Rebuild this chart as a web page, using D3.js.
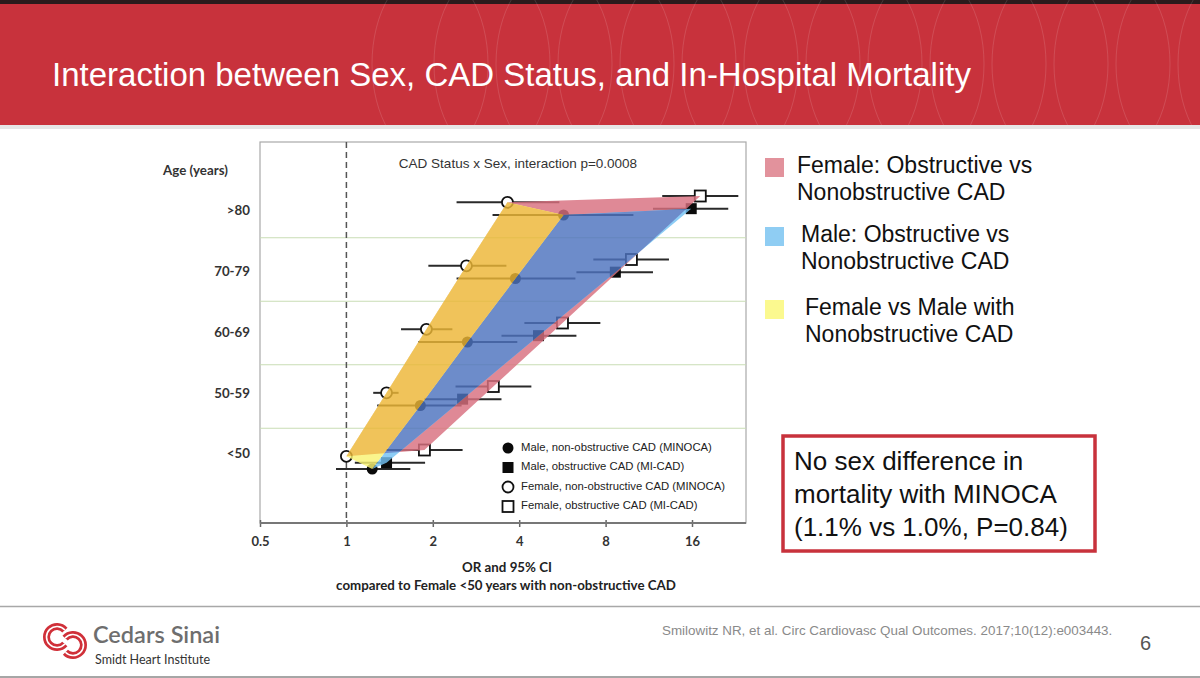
<!DOCTYPE html>
<html>
<head>
<meta charset="utf-8">
<script src="https://cdn.jsdelivr.net/npm/d3@7"></script>
<style>
  body { margin: 0; background: #fff; }
  svg { display: block; }
</style>
</head>
<body>
<script>
"use strict";

// ---- data ----
var ages = ['>80', '70-79', '60-69', '50-59', '<50'];
var xTicks = [0.5, 1, 2, 4, 8, 16];

var femaleNonOR = [3.64, 2.62, 1.90, 1.38, 1.00],
    femaleNonLo = [2.42, 1.93, 1.55, 1.24, 1.00],
    femaleNonHi = [5.52, 3.61, 2.34, 1.52, 1.00];

var maleNonOR = [5.71, 3.88, 2.64, 1.81, 1.23],
    maleNonLo = [3.23, 2.42, 1.78, 1.28, 0.92],
    maleNonHi = [10.0, 6.28, 3.94, 2.52, 1.67];

var maleObstOR = [15.9, 8.65, 4.67, 2.54, 1.38],
    maleObstLo = [11.7, 6.33, 3.47, 1.87, 1.07],
    maleObstHi = [21.4, 11.7, 6.33, 3.47, 1.88];

var femaleObstOR = [17.1, 9.84, 5.66, 3.25, 1.87],
    femaleObstLo = [12.6, 7.25, 4.17, 2.40, 1.38],
    femaleObstHi = [23.2, 13.3, 7.67, 4.41, 2.54];

var seriesKeys = ['femaleObst', 'femaleNon', 'maleObst', 'maleNon'];
var legendKeys = ['maleNon', 'maleObst', 'femaleNon', 'femaleObst'];
var legendLabels = ['Male, non-obstructive CAD (MINOCA)', 'Male, obstructive CAD (MI-CAD)',
                    'Female, non-obstructive CAD (MINOCA)', 'Female, obstructive CAD (MI-CAD)'];

var slideLegend = [
  {lines: ['Female: Obstructive vs', 'Nonobstructive CAD'], color: '#e2929c'},
  {lines: ['Male: Obstructive vs', 'Nonobstructive CAD'], color: '#8fcdf3'},
  {lines: ['Female vs Male with', 'Nonobstructive CAD'], color: '#fbf98f'}
];
var noteLines = ['No sex difference in', 'mortality with MINOCA', '(1.1% vs 1.0%, P=0.84)'];

var series = {
  femaleNon: {or: femaleNonOR, lo: femaleNonLo, hi: femaleNonHi},
  maleNon: {or: maleNonOR, lo: maleNonLo, hi: maleNonHi},
  maleObst: {or: maleObstOR, lo: maleObstLo, hi: maleObstHi},
  femaleObst: {or: femaleObstOR, lo: femaleObstLo, hi: femaleObstHi}
};

var width = 1200, height = 678;
var svg = d3.select('body').append('svg').attr('width', width).attr('height', height);
var defs = svg.append('defs');

// ---- slide chrome ----
svg.append('rect').attr('width', width).attr('height', 125).attr('fill', '#c8323c');
svg.append('rect').attr('width', width).attr('height', 4).attr('fill', '#2b1b1c');
var deco = svg.append('g').attr('fill', 'none').attr('stroke', 'rgba(255,255,255,0.13)').attr('stroke-width', 1);
d3.range(430, 1260, 62).forEach(function(cx) {
  deco.append('ellipse').attr('cx', cx).attr('cy', 64).attr('rx', 58).attr('ry', 95);
});
svg.append('rect').attr('y', 125).attr('width', width).attr('height', 4).attr('fill', '#e6e6e6');
svg.append('text')
  .attr('x', 52).attr('y', 86)
  .attr('fill', '#fff')
  .style('font', '33px "Liberation Sans", Arial, sans-serif')
  .text('Interaction between Sex, CAD Status, and In-Hospital Mortality');

svg.append('line').attr('x1', 0).attr('x2', width).attr('y1', 606.5).attr('y2', 606.5)
  .attr('stroke', '#a8a8a8').attr('stroke-width', 1.5);
svg.append('line').attr('x1', 0).attr('x2', width).attr('y1', 677).attr('y2', 677)
  .attr('stroke', '#888').attr('stroke-width', 1.5);

// logo
var arc = d3.arc();
var logo = svg.append('g').attr('fill', 'none');
[[57, 637, 2.3, 2 * Math.PI + 0.85], [73, 645, -0.85, 3.95]].forEach(function(c) {
  var p = arc({innerRadius: 10.5, outerRadius: 10.5, startAngle: c[2], endAngle: c[3]});
  logo.append('path').attr('transform', 'translate(' + c[0] + ',' + c[1] + ')').attr('d', p)
    .attr('stroke', '#d03039').attr('stroke-width', 7);
  logo.append('path').attr('transform', 'translate(' + c[0] + ',' + c[1] + ')').attr('d', p)
    .attr('stroke', '#fff').attr('stroke-width', 1.6);
});
svg.append('text').attr('x', 93).attr('y', 643).attr('fill', '#6e6e6e')
  .style('font', '600 23.5px Lato, "Noto Sans", sans-serif').text('Cedars Sinai');
svg.append('text').attr('x', 95).attr('y', 664).attr('fill', '#333')
  .style('font', '12.5px Lato, "Noto Sans", sans-serif').text('Smidt Heart Institute');
svg.append('text').attr('x', 662).attr('y', 635).attr('fill', '#8a8a8a')
  .style('font', '13.4px "Liberation Sans", Arial, sans-serif')
  .text('Smilowitz NR, et al. Circ Cardiovasc Qual Outcomes. 2017;10(12):e003443.');
svg.append('text').attr('x', 1140).attr('y', 650).attr('fill', '#555')
  .style('font', '20px "Liberation Sans", Arial, sans-serif').text('6');

// ---- forest plot ----
var plotL = 260, plotR = 746, plotT = 142, plotB = 523;
var x = d3.scaleLog().base(2).domain([0.5, 16]).range([plotL, 692]);
var row = d3.scalePoint().domain(ages).range([206, 460]);
var labelRow = d3.scalePoint().domain(ages).range([212, 455]);
var sub = d3.scalePoint().domain(seriesKeys).range([-10, 9]);

function yOf(key, i) { return row(ages[i]) + sub(key); }
function pts(key) { return series[key].or.map(function(v, i) { return [x(v), yOf(key, i)]; }); }

var plot = svg.append('g');
plot.append('rect').attr('x', plotL).attr('y', plotT).attr('width', plotR - plotL).attr('height', plotB - plotT)
  .attr('fill', '#fff').attr('stroke', '#a9a9a9').attr('stroke-width', 1.2);

// row separators
d3.pairs(ages).forEach(function(p) {
  var yy = (row(p[0]) + row(p[1])) / 2;
  plot.append('line').attr('x1', plotL).attr('x2', plotR).attr('y1', yy).attr('y2', yy)
    .attr('stroke', '#c9ddb4').attr('stroke-width', 1.2);
});

plot.append('line').attr('x1', x(1)).attr('x2', x(1)).attr('y1', plotT).attr('y2', plotB)
  .attr('stroke', '#555').attr('stroke-width', 1.5).attr('stroke-dasharray', '6,4');

plot.append('text').attr('x', 518).attr('y', 168).attr('text-anchor', 'middle').attr('fill', '#333')
  .style('font', '13.5px "Liberation Sans", Arial, sans-serif')
  .text('CAD Status x Sex, interaction p=0.0008');

// CI lines
seriesKeys.forEach(function(key) {
  var s = series[key];
  plot.selectAll('.ci-' + key).data(s.or).enter().append('line')
    .attr('class', 'ci-' + key)
    .attr('x1', function(d, i) { return x(s.lo[i]); })
    .attr('x2', function(d, i) { return x(s.hi[i]); })
    .attr('y1', function(d, i) { return yOf(key, i); })
    .attr('y2', function(d, i) { return yOf(key, i); })
    .attr('stroke', '#2a2a2a').attr('stroke-width', 2);
});

function marker(g, key, cx, cy) {
  var female = key.indexOf('female') === 0;
  var obst = key.indexOf('Obst') > 0;
  var m;
  if (obst) {
    m = g.append('rect').attr('x', cx - 5.5).attr('y', cy - 5.5).attr('width', 11).attr('height', 11);
  } else {
    m = g.append('circle').attr('cx', cx).attr('cy', cy).attr('r', 5.5);
  }
  if (female) m.attr('fill', '#fff').attr('stroke', '#111').attr('stroke-width', 1.8);
  else m.attr('fill', '#0a0a0a');
}

seriesKeys.forEach(function(key) {
  pts(key).forEach(function(p) { marker(plot, key, p[0], p[1]); });
});

// shaded regions
function ring(a, b) { return a.concat(b.slice().reverse()); }
var line = d3.line();
var regF = ring(pts('femaleNon'), pts('femaleObst'));
var regM = ring(pts('maleNon'), pts('maleObst'));
var regY = ring(pts('femaleNon'), pts('maleNon'));

defs.append('clipPath').attr('id', 'clipF').append('path').attr('d', line(regF) + 'Z');

var areas = plot.append('g').attr('opacity', 0.82);
areas.append('path').attr('d', line(regF) + 'Z').attr('fill', '#d9707f');
areas.append('path').attr('d', line(regM) + 'Z').attr('fill', '#73c2f3');
areas.append('path').attr('d', line(regY) + 'Z').attr('fill', '#f9f373');
areas.append('path').attr('d', line(regM) + 'Z').attr('fill', '#4e73bf').attr('clip-path', 'url(#clipF)');
areas.append('path').attr('d', line(regY) + 'Z').attr('fill', '#edb736').attr('clip-path', 'url(#clipF)');

// x axis
var xAxis = plot.append('g').attr('transform', 'translate(0,' + plotB + ')')
  .call(d3.axisBottom(x).tickValues(xTicks).tickFormat(function(d) { return d; })
    .tickSizeInner(4).tickSizeOuter(0).tickPadding(10));
xAxis.select('.domain').remove();
xAxis.append('line').attr('x1', plotL).attr('x2', plotR).attr('stroke', '#777').attr('stroke-width', 2);
xAxis.selectAll('.tick line').attr('stroke', '#666').attr('stroke-width', 1.5).attr('y1', -3);
xAxis.selectAll('.tick text').attr('fill', '#333')
  .style('font', 'bold 13px Lato, "Open Sans", sans-serif');

// age labels
var boldFont = 'bold 13.3px Lato, "Open Sans", sans-serif';
svg.append('text').attr('x', 163).attr('y', 175).attr('fill', '#333')
  .style('font', boldFont).text('Age (years)');
svg.selectAll('.age').data(ages).enter().append('text')
  .attr('class', 'age')
  .attr('x', 250).attr('y', function(d) { return labelRow(d); })
  .attr('text-anchor', 'end').attr('dominant-baseline', 'middle').attr('fill', '#333')
  .style('font', boldFont)
  .text(function(d) { return d; });

svg.append('text').attr('x', 507).attr('y', 572).attr('text-anchor', 'middle').attr('fill', '#222')
  .style('font', boldFont).text('OR and 95% CI');
svg.append('text').attr('x', 506).attr('y', 590).attr('text-anchor', 'middle').attr('fill', '#222')
  .style('font', boldFont)
  .text('compared to Female <50 years with non-obstructive CAD');

// in-plot legend
var leg = plot.append('g');
legendKeys.forEach(function(key, i) {
  var yy = 448 + i * 19.5;
  marker(leg, key, 508, yy);
  leg.append('text').attr('x', 521).attr('y', yy).attr('dominant-baseline', 'middle').attr('fill', '#222')
    .style('font', '11.3px "Liberation Sans", Arial, sans-serif').text(legendLabels[i]);
});

// slide legend
var sl = svg.append('g');
var slideX = [797, 801, 805], slideY = [173, 242, 315];
slideLegend.forEach(function(d, i) {
  sl.append('rect').attr('x', 765).attr('y', slideY[i] - 15).attr('width', 19).attr('height', 19).attr('fill', d.color);
  d.lines.forEach(function(t, j) {
    sl.append('text').attr('x', slideX[i]).attr('y', slideY[i] + j * 27).attr('fill', '#111')
      .style('font', '23px "Liberation Sans", Arial, sans-serif').text(t);
  });
});

// note box
svg.append('rect').attr('x', 783).attr('y', 436).attr('width', 312).attr('height', 115)
  .attr('fill', '#fff').attr('stroke', '#c8323c').attr('stroke-width', 3.5);
noteLines.forEach(function(t, i) {
  svg.append('text').attr('x', 794).attr('y', 470 + i * 33).attr('fill', '#111')
    .style('font', '26px "Liberation Sans", Arial, sans-serif').text(t);
});
</script>
</body>
</html>
